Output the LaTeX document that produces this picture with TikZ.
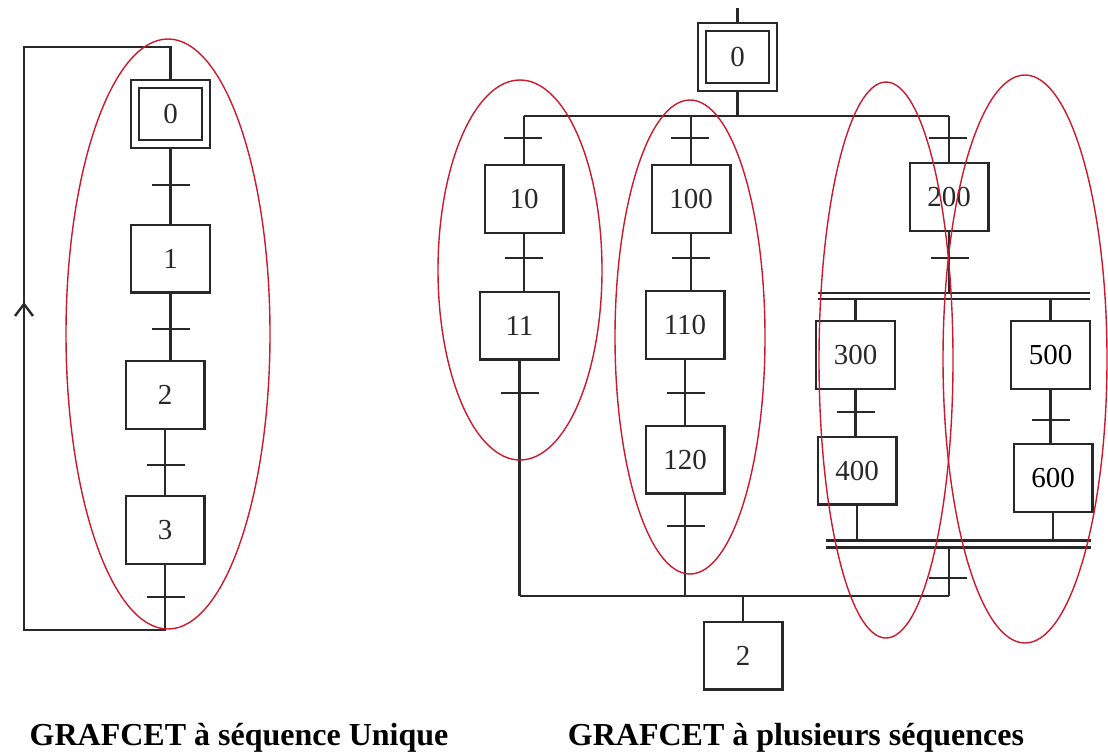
\documentclass[tikz,border=0pt]{standalone}
\usepackage{fontspec}
\setmainfont{Liberation Serif}
\usepackage{xcolor}
\usepackage{tikz}
\usetikzlibrary{arrows.meta}
\definecolor{trait}{RGB}{40,40,40}
\definecolor{rouge}{RGB}{205,25,45}
\tikzstyle{etape} = [rectangle, draw=trait, line width=2.4pt, inner sep=0pt,
                     minimum width=78.6pt, minimum height=67.6pt,
                     text=trait, font=\fontsize{29}{29}\selectfont]
\tikzstyle{init} = [etape, line width=2.2pt, double, double distance=5.6pt,
                    outer sep=5pt, minimum width=71pt, minimum height=60pt]
\tikzstyle{lien} = [draw=trait, line width=2.4pt]
\tikzstyle{barre} = [draw=trait, line width=2.4pt]
\tikzstyle{simul} = [draw=trait, line width=2.2pt, double, double distance=3.8pt]
\tikzstyle{simulb} = [draw=trait, line width=3.2pt, double, double distance=3.2pt]
\tikzstyle{retour} = [lien, -{Straight Barb[length=12pt, width=18pt]}]
\tikzstyle{groupe} = [draw=rouge, line width=1.4pt]
\tikzstyle{titre} = [anchor=base, inner sep=0pt, font=\bfseries\fontsize{32}{32}\selectfont]

\begin{document}
\begin{tikzpicture}[x=1pt, y=-1pt]
    \useasboundingbox (0,0) rectangle (1108,755);

    \node [init]  (e0) at (170.5,114) {0};
    \node [etape] (e1) at (170.5,258.5) {1};
    \node [etape] (e2) at (165,395) {2};
    \node [etape] (e3) at (165,530) {3};
    \coordinate (hg) at (24,47);
    \coordinate (bg) at (24,630);
    \coordinate (fl) at (24,302);

    \draw [lien] (e0) -- (e1);
    \draw [lien] (e1) -- (e1 |- e2.north);
    \draw [lien] (e2) -- (e3);
    \draw [retour] (bg) -- (fl);
    \draw [lien] (e3) -- (e3 |- bg) -- (bg) -- (hg) -- (e0 |- hg) -- (e0);
    \foreach \x/\y in {170.5/185, 171/329, 166/465, 166/597}
        \draw [barre] (\x-19,\y) -- (\x+19,\y);

    \node [init]  (r0) at (737.5,57) {0};
    \node [etape] (s10) at (524,199) {10};
    \node [etape] (s11) at (519.5,325.5) {11};
    \node [etape] (s100) at (691,199) {100};
    \node [etape] (s110) at (685,325) {110};
    \node [etape] (s120) at (685,459.5) {120};
    \node [etape] (s200) at (949,197) {200};
    \node [etape] (s300) at (855.5,355) {300};
    \node [etape] (s400) at (857,470.5) {400};
    \node [etape, text=black] (s500) at (1050.5,355) {500};
    \node [etape, text=black] (s600) at (1053,478) {600};
    \node [etape] (s2) at (743,655.5) {2};
    \coordinate (entree) at (737.5,8);
    \coordinate (div) at (737.5,116);
    \coordinate (conv) at (743,596);
    \coordinate (simA) at (818,296);
    \coordinate (simB) at (1090,296);
    \coordinate (simC) at (826,544);
    \coordinate (simD) at (1091,544);

    \draw [lien] (entree) -- (r0);
    \draw [lien] (r0) -- (div);
    \draw [lien] (s10.north |- div) -- (s200.north |- div);
    \draw [lien] (s10.north |- div) -- (s10.north);
    \draw [lien] (s100.north |- div) -- (s100.north);
    \draw [lien] (s200.north |- div) -- (s200.north);
    \draw [lien] (s10) -- (s10 |- s11.north);
    \draw [lien] (s11) -- (s11 |- conv);
    \draw [lien] (s100) -- (s100 |- s110.north);
    \draw [lien] (s110) -- (s120);
    \draw [lien] (s120) -- (s120 |- conv);
    \draw [lien] (s200) -- (s200 |- simA);
    \draw [lien] (s300 |- simA) -- (s300);
    \draw [lien] (s500 |- simA) -- (s500);
    \draw [lien] (s300) -- (s300 |- s400.north);
    \draw [lien] (s500) -- (s500 |- s600.north);
    \draw [lien] (s400) -- (s400 |- simC);
    \draw [lien] (s600) -- (s600 |- simC);
    \draw [lien] (s200 |- simC) -- (s200 |- conv);
    \draw [lien] (s11 |- conv) -- (s200 |- conv);
    \draw [lien] (conv) -- (s2);
    \draw [simul] (simA) -- (simB);
    \draw [simulb] (simC) -- (simD);
    \foreach \x/\y in {523/138, 524/258, 520/393, 690/138, 691/258, 686/393,
                       686/526, 948/138, 950/258, 856/412, 1051/420, 948/578}
        \draw [barre] (\x-19,\y) -- (\x+19,\y);

    \draw [groupe] (168,334) ellipse [x radius=102, y radius=295];
    \draw [groupe] (520,270) ellipse [x radius=82, y radius=190];
    \draw [groupe] (690,337) ellipse [x radius=75, y radius=237];
    \draw [groupe] (886,360) ellipse [x radius=67, y radius=278];
    \draw [groupe] (1025,359) ellipse [x radius=82, y radius=284];

    \node [titre] (cap1) at (239,745) {GRAFCET à séquence Unique};
    \node [titre] (cap2) at (796,745) {GRAFCET à plusieurs séquences};
\end{tikzpicture}
\end{document}
